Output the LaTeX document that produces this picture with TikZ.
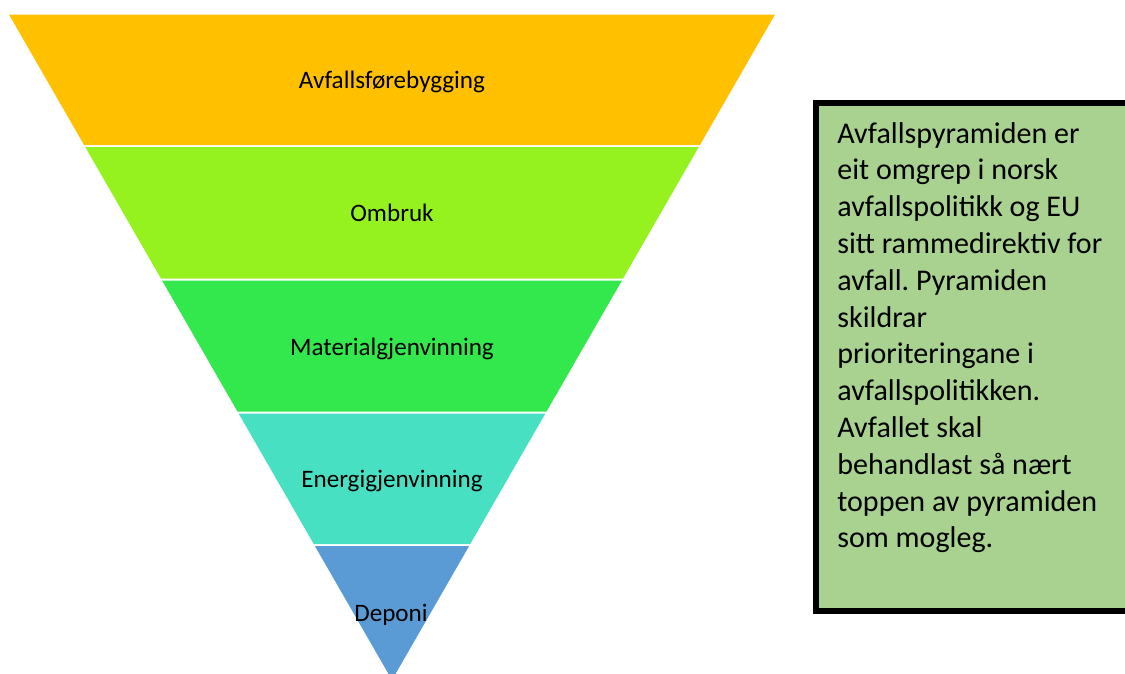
\documentclass[tikz,border=0pt]{standalone}
\usepackage{fontspec}
\setmainfont{Carlito}
\usetikzlibrary{calc}
\frenchspacing
\definecolor{bandA}{HTML}{FFC000}
\definecolor{bandB}{HTML}{95F21E}
\definecolor{bandC}{HTML}{32E84C}
\definecolor{bandD}{HTML}{48E0C2}
\definecolor{bandE}{HTML}{5B9BD5}
\definecolor{boxfill}{HTML}{A9D18F}
\tikzset{
  lbl/.style={anchor=base, inner sep=0pt, font=\fontsize{14.3pt}{16pt}\selectfont, text=black},
  boxline/.style={anchor=base west, inner sep=0pt, font=\fontsize{17.1pt}{20.9pt}\selectfont, text=black},
  infobox/.style={draw=black, line width=0.12cm, fill=boxfill}
}
\begin{document}
\begin{tikzpicture}[x=0.02cm, y=-0.02cm]
\useasboundingbox (0,0) rectangle (1125,673);
\clip (0,0) rectangle (1125,673);
% inverted pyramid bands: apex (392,680), slope 0.5755
\def\apx{392}
\def\apy{680}
\def\k{0.5755}
\foreach \ya/\yb/\col in {14.5/145/bandA, 147/278.5/bandB, 280.5/411.5/bandC, 413.5/544/bandD, 546/680/bandE}{
  \pgfmathsetmacro{\ha}{(\apy-\ya)*\k}
  \pgfmathsetmacro{\hb}{(\apy-\yb)*\k}
  \fill[\col] (\apx-\ha,\ya) -- (\apx+\ha,\ya) -- (\apx+\hb,\yb) -- (\apx-\hb,\yb) -- cycle;
}
\node[lbl] (l1) at (392,88) {Avfallsførebygging};
\node[lbl] (l2) at (392,221) {Ombruk};
\node[lbl] (l3) at (392,355) {Materialgjenvinning};
\node[lbl] (l4) at (392,487) {Energigjenvinning};
\node[lbl] (l5) at (391,621) {Deponi};
% info box
\draw[infobox] (816,103) rectangle (1140,611);
\foreach \t [count=\i from 0] in {Avfallspyramiden er, eit omgrep i norsk, avfallspolitikk og EU, sitt rammedirektiv for, avfall. Pyramiden, skildrar, prioriteringane i, avfallspolitikken., Avfallet skal, behandlast så nært, toppen av pyramiden, som mogleg.}{
  \node[boxline] (t\i) at (837,143+\i*36.8) {\t};
}
\end{tikzpicture}
\end{document}
